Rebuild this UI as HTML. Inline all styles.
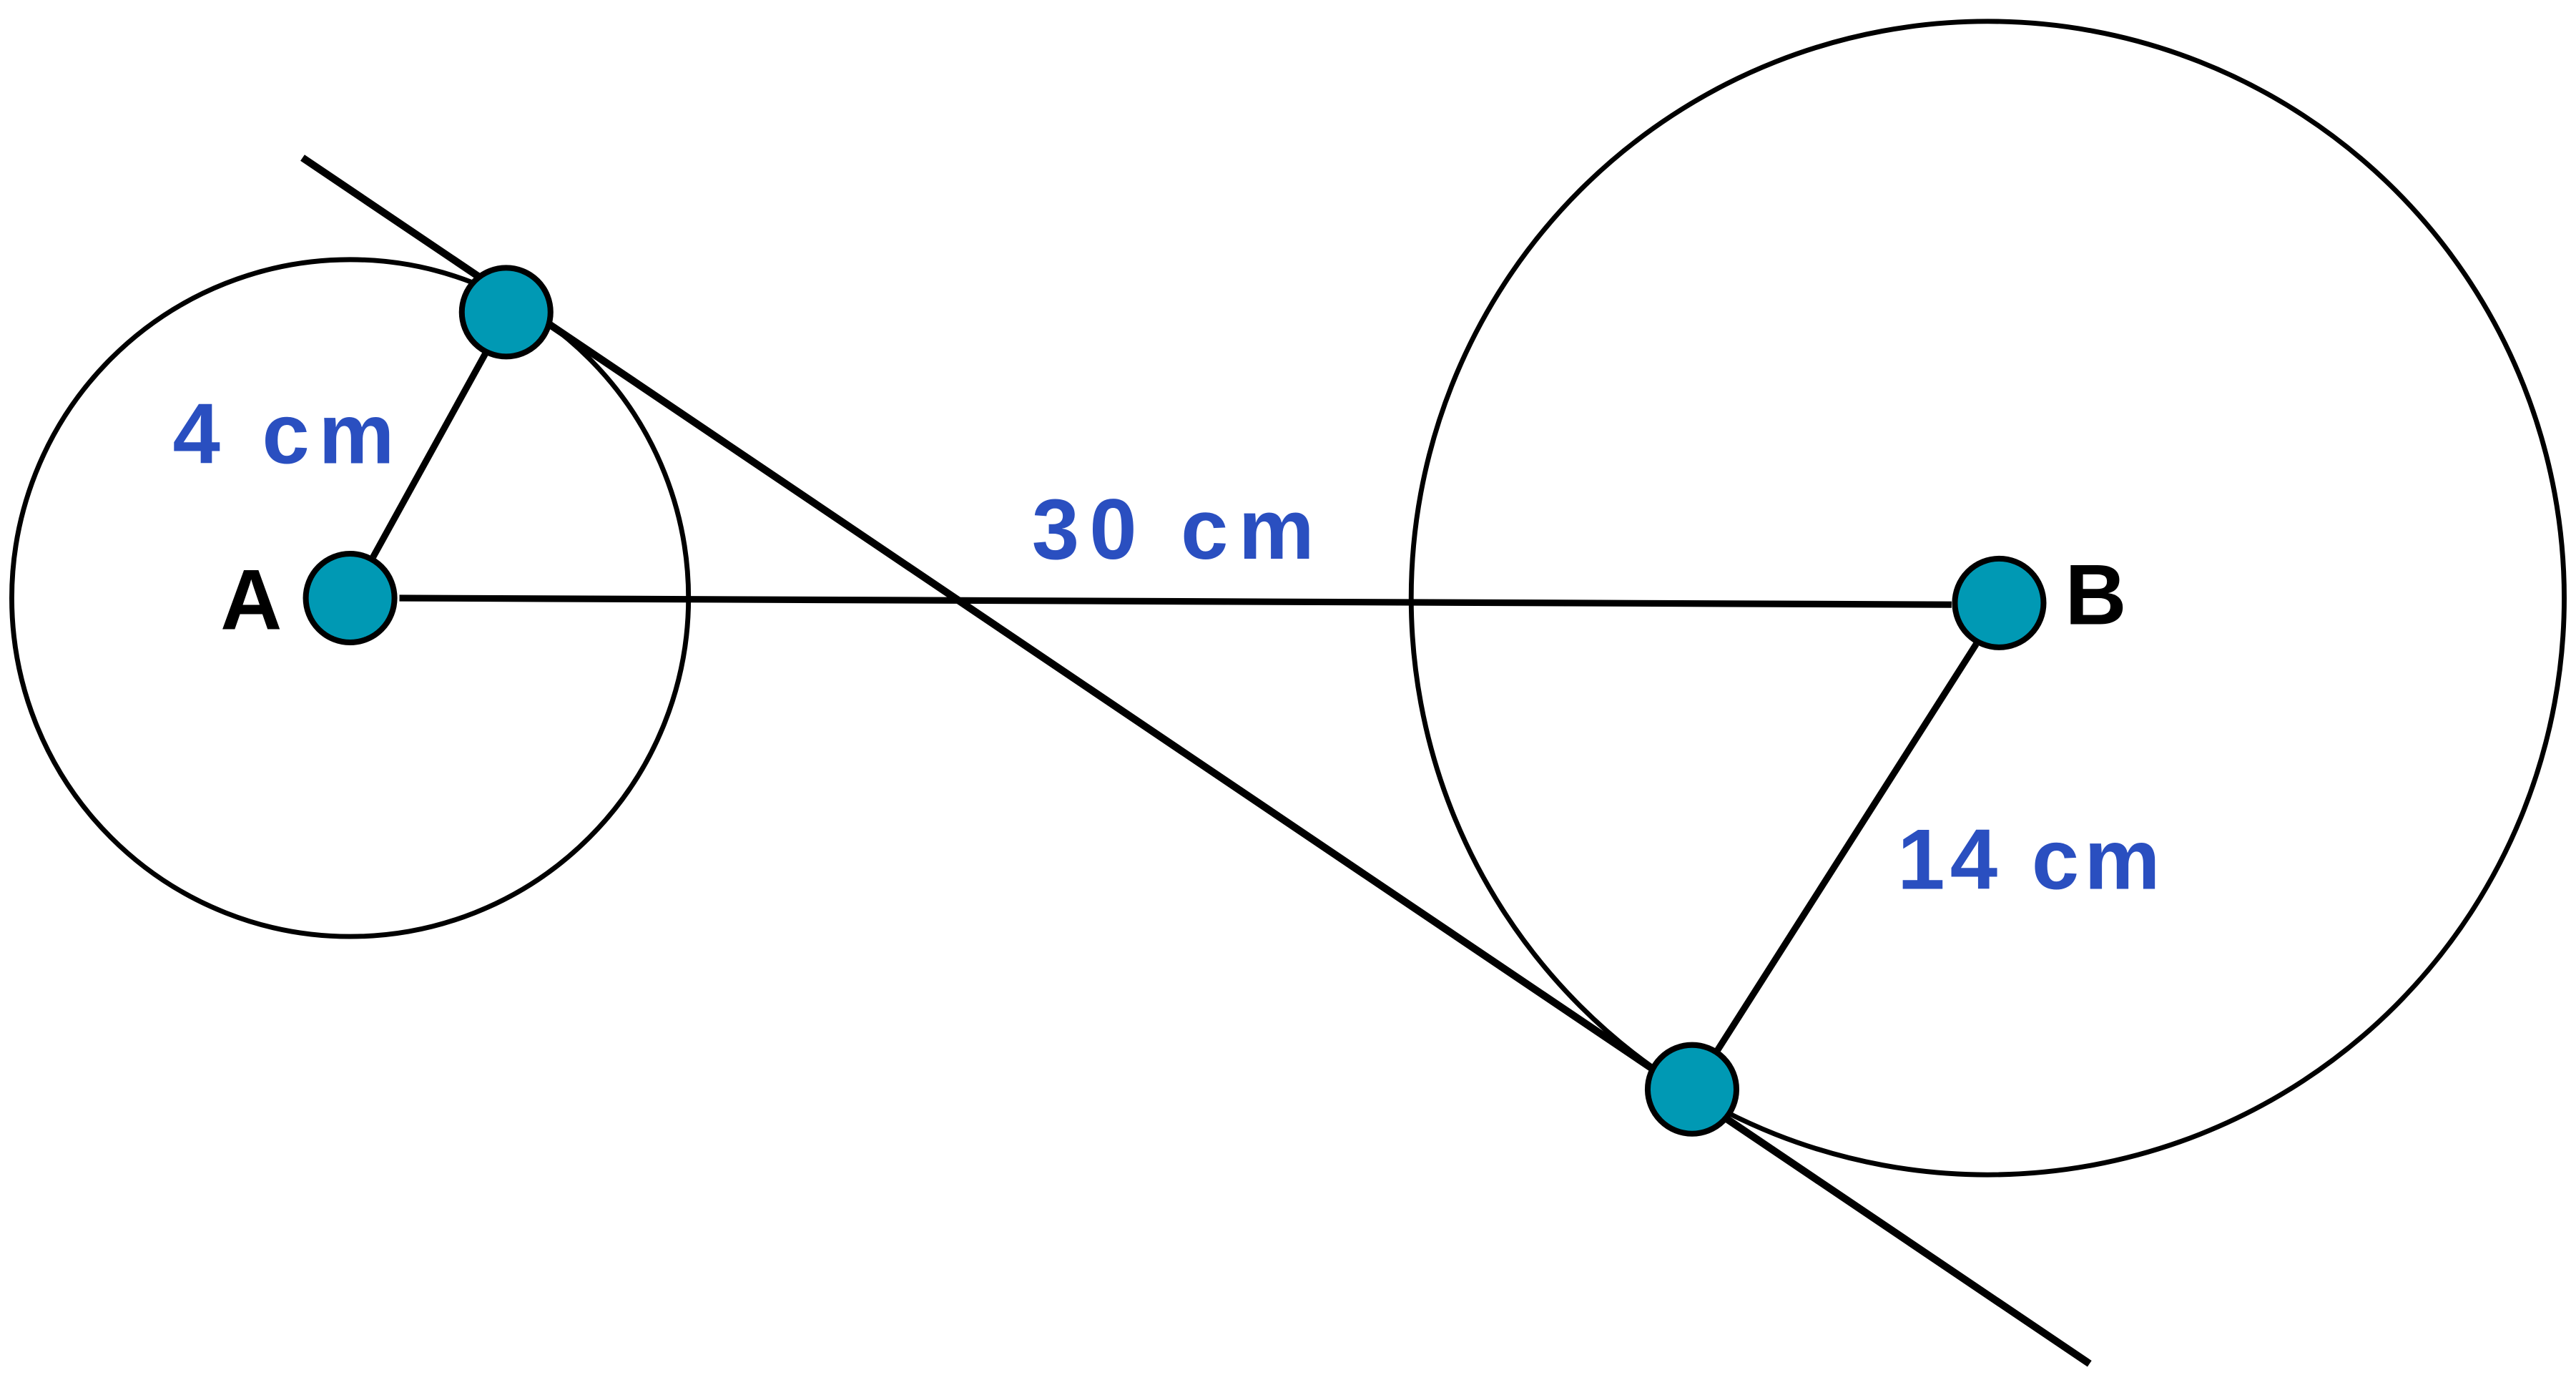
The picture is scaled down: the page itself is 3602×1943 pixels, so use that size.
<!DOCTYPE html>
<html>
<head>
<meta charset="utf-8">
<style>
html,body{margin:0;padding:0;background:#fff;}
svg{display:block;}
.lbl{font-family:"Liberation Sans",sans-serif;fill:#2a4fc0;font-size:52px;font-weight:600;}
.pt{font-family:"Liberation Sans",sans-serif;font-weight:bold;fill:#000;font-size:52px;}
</style>
</head>
<body>
<svg width="3602" height="1943" viewBox="0 0 1568 846" xmlns="http://www.w3.org/2000/svg">
  <circle cx="213" cy="364" r="206" fill="none" stroke="#000" stroke-width="3"/>
  <circle cx="1210" cy="364" r="351" fill="none" stroke="#000" stroke-width="3"/>
  <line x1="184" y1="96" x2="1272" y2="830" stroke="#000" stroke-width="4.5"/>
  <line x1="243" y1="364" x2="1188" y2="368" stroke="#000" stroke-width="4"/>
  <line x1="227" y1="339" x2="296" y2="214" stroke="#000" stroke-width="4"/>
  <line x1="1045" y1="640" x2="1203" y2="392" stroke="#000" stroke-width="4"/>
  <circle cx="213" cy="364" r="27" fill="#0099b4" stroke="#000" stroke-width="3.5"/>
  <circle cx="1217" cy="367" r="27" fill="#0099b4" stroke="#000" stroke-width="3.5"/>
  <circle cx="308" cy="190" r="27" fill="#0099b4" stroke="#000" stroke-width="3.5"/>
  <circle cx="1030" cy="663" r="27" fill="#0099b4" stroke="#000" stroke-width="3.5"/>
  <text x="105" y="282" class="lbl" textLength="135" lengthAdjust="spacing">4 cm</text>
  <text x="628" y="340" class="lbl" textLength="172" lengthAdjust="spacing">30 cm</text>
  <text x="1155" y="541" class="lbl" textLength="160" lengthAdjust="spacing">14 cm</text>
  <text x="134" y="383" class="pt">A</text>
  <text x="1257" y="380" class="pt">B</text>
</svg>
</body>
</html>
